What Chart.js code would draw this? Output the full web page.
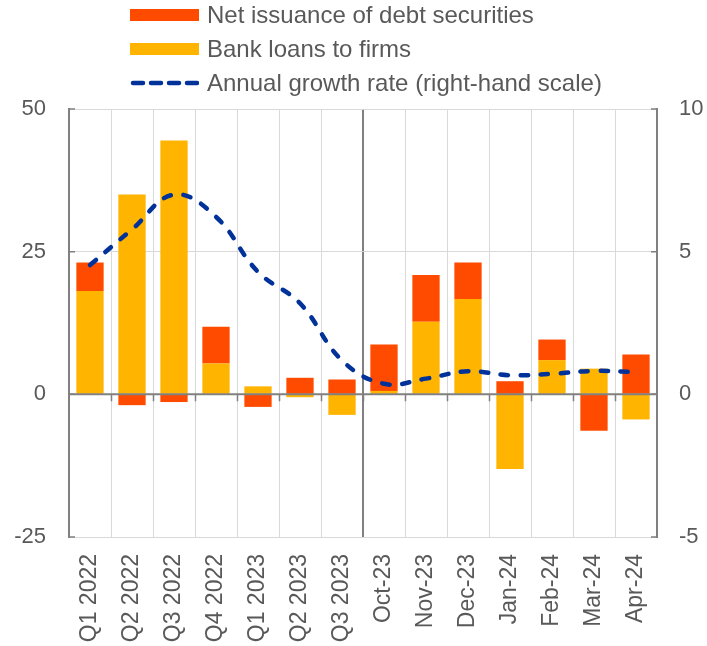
<!DOCTYPE html>
<html>
<head>
<meta charset="utf-8">
<script src="https://cdn.jsdelivr.net/npm/chart.js@4"></script>
<style>
  html, body { margin: 0; padding: 0; background: #fff; }
  #wrap { position: relative; width: 707px; height: 646px; }
  #legend { position: absolute; left: 130px; top: -2px; font-family: "Liberation Sans", Arial, sans-serif; font-size: 24px; color: #595959; }
  .row { height: 34px; display: flex; align-items: center; white-space: nowrap; }
  .sym { width: 69px; height: 12px; margin-right: 8px; flex: none; }
</style>
</head>
<body>
<div id="wrap">
  <canvas id="c" width="707" height="646"></canvas>
  <div id="legend"></div>
</div>
<script>
const categories = ["Q1 2022","Q2 2022","Q3 2022","Q4 2022","Q1 2023","Q2 2023","Q3 2023",
                    "Oct-23","Nov-23","Dec-23","Jan-24","Feb-24","Mar-24","Apr-24"];
const bankLoans = [18.1, 35.0, 44.5, 5.4, 1.4, -0.5, -3.6, 0.6, 12.7, 16.7, -13.1, 6.0, 4.5, -4.4];
const debtIssuance = [5.0, -1.9, -1.35, 6.45, -2.2, 2.9, 2.6, 8.15, 8.2, 6.4, 2.3, 3.6, -6.4, 7.0];
const growthRate = [4.53, 5.78, 7.0, 6.22, 4.29, 3.19, 1.19, 0.37, 0.55, 0.81, 0.67, 0.72, 0.82, 0.78];
const leftTicks = [-25, 0, 25, 50];
const rightTicks = [-5, 0, 5, 10];

const FONT = '"Liberation Sans", Arial, sans-serif';
const TXT = '#595959';
const AXIS = '#808080';
const GRID = '#d9d9d9';
const C_DEBT = '#FF4B00';
const C_LOANS = '#FFB400';
const C_LINE = '#003299';

const overlay = {
  id: 'overlay',
  afterDatasetsDraw(chart) {
    const {ctx, chartArea, scales} = chart;
    const y = scales.y, y1 = scales.y1;
    const z = y.getPixelForValue(0);
    ctx.save();
    ctx.strokeStyle = AXIS;
    ctx.lineWidth = 2;
    ctx.beginPath();
    ctx.moveTo(chartArea.left, z);
    ctx.lineTo(chartArea.right, z);
    ctx.stroke();
    const n = categories.length;
    const w = (chartArea.right - chartArea.left) / n;
    ctx.lineWidth = 1.5;
    ctx.beginPath();
    for (let i = 1; i < n; i++) {
      const px = Math.round(chartArea.left + i * w) + 0.5;
      ctx.moveTo(px, z);
      ctx.lineTo(px, z + 7);
    }
    leftTicks.forEach(v => {
      const py = y.getPixelForValue(v);
      ctx.moveTo(chartArea.left, py);
      ctx.lineTo(chartArea.left + 6, py);
    });
    rightTicks.forEach(v => {
      const py = y1.getPixelForValue(v);
      ctx.moveTo(chartArea.right, py);
      ctx.lineTo(chartArea.right - 6, py);
    });
    ctx.stroke();
    ctx.restore();
  }
};

const chart = new Chart(document.getElementById('c'), {
  type: 'bar',
  data: {
    labels: categories,
    datasets: [
      { label: 'Bank loans to firms', data: bankLoans, backgroundColor: C_LOANS, yAxisID: 'y', stack: 's', order: 1,
        barPercentage: 0.65, categoryPercentage: 1.0 },
      { label: 'Net issuance of debt securities', data: debtIssuance, backgroundColor: C_DEBT, yAxisID: 'y', stack: 's', order: 1,
        barPercentage: 0.65, categoryPercentage: 1.0 },
      { type: 'line', label: 'Annual growth rate (right-hand scale)', data: growthRate, yAxisID: 'y1', order: 0,
        borderColor: C_LINE, borderWidth: 4.5, borderDash: [7.5, 12.5], borderCapStyle: 'round',
        tension: 0.4, pointRadius: 0, fill: false }
    ]
  },
  options: {
    responsive: false,
    animation: false,
    events: [],
    layout: { padding: { top: 109, left: 0, right: 0, bottom: 0 } },
    plugins: { legend: { display: false }, tooltip: { enabled: false } },
    scales: {
      x: {
        stacked: true,
        grid: {
          offset: true,
          drawTicks: false,
          color: c => c.index === 7 ? AXIS : GRID,
          lineWidth: c => c.index === 7 ? 2 : 1
        },
        border: { display: false },
        ticks: { color: TXT, font: { family: FONT, size: 23 }, minRotation: 90, maxRotation: 90, padding: 17, autoSkip: false },
        afterFit: s => { s.height = 109; }
      },
      y: {
        stacked: true,
        position: 'left',
        min: -25, max: 50,
        afterBuildTicks: s => { s.ticks = leftTicks.map(v => ({ value: v })); },
        grid: { drawTicks: false, color: c => (c.tick && c.tick.value === 0) ? 'rgba(0,0,0,0)' : GRID },
        border: { display: true, color: AXIS, width: 2 },
        ticks: { color: TXT, font: { family: FONT, size: 22 }, padding: 23 },
        afterFit: s => { s.width = 69; }
      },
      y1: {
        position: 'right',
        min: -5, max: 10,
        afterBuildTicks: s => { s.ticks = rightTicks.map(v => ({ value: v })); },
        grid: { drawOnChartArea: false, drawTicks: false },
        border: { display: true, color: AXIS, width: 2 },
        ticks: { color: TXT, font: { family: FONT, size: 22 }, padding: 22 },
        afterFit: s => { s.width = 50; }
      }
    }
  },
  plugins: [overlay]
});

const legendOrder = [1, 0, 2];
const lg = document.getElementById('legend');
legendOrder.forEach(i => {
  const ds = chart.data.datasets[i];
  const row = document.createElement('div');
  row.className = 'row';
  let sym;
  if (ds.type === 'line') {
    sym = document.createElementNS('http://www.w3.org/2000/svg', 'svg');
    sym.setAttribute('class', 'sym');
    sym.setAttribute('width', '69'); sym.setAttribute('height', '12');
    const ln = document.createElementNS('http://www.w3.org/2000/svg', 'line');
    ln.setAttribute('x1', '3'); ln.setAttribute('x2', '69');
    ln.setAttribute('y1', '6'); ln.setAttribute('y2', '6');
    ln.setAttribute('stroke', ds.borderColor);
    ln.setAttribute('stroke-width', '4.5');
    ln.setAttribute('stroke-linecap', 'round');
    ln.setAttribute('stroke-dasharray', '10 8');
    sym.appendChild(ln);
  } else {
    sym = document.createElement('div');
    sym.className = 'sym';
    sym.style.background = ds.backgroundColor;
  }
  const t = document.createElement('span');
  t.textContent = ds.label;
  row.appendChild(sym); row.appendChild(t);
  lg.appendChild(row);
});
</script>
</body>
</html>
